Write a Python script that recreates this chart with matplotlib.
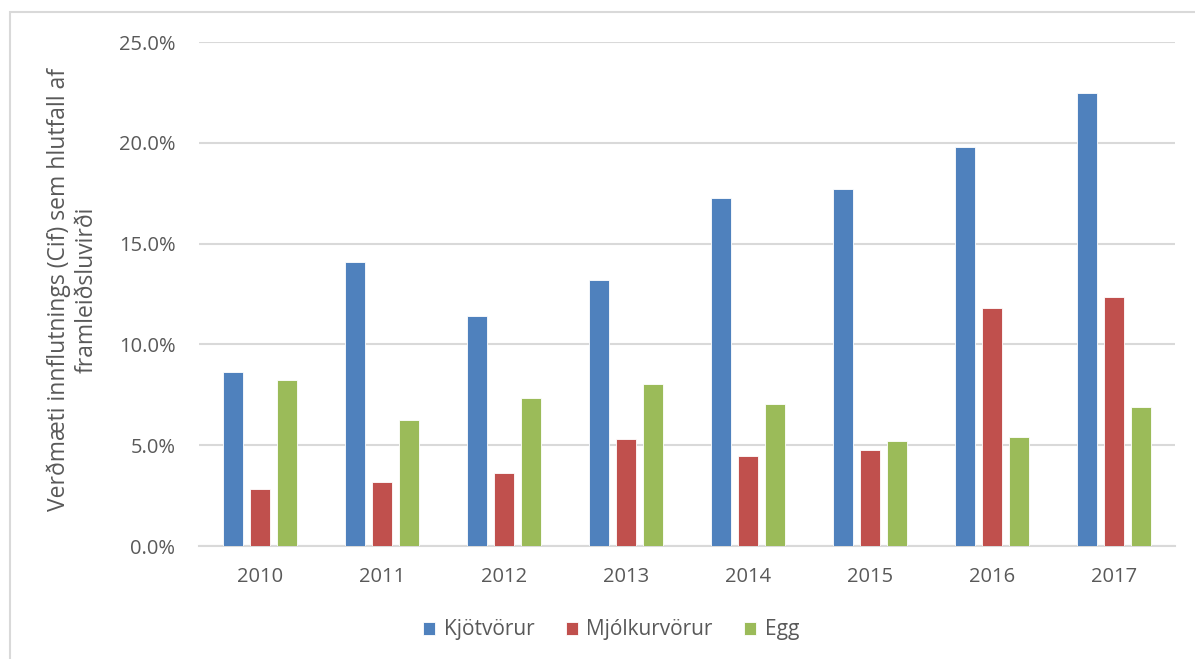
import matplotlib.pyplot as plt
import numpy as np
from matplotlib.patches import Rectangle
from matplotlib.ticker import PercentFormatter

# values (share of production value)
years = ["2010", "2011", "2012", "2013", "2014", "2015", "2016", "2017"]
kjot = [8.62, 14.10, 11.41, 13.19, 17.26, 17.71, 19.80, 22.47]
mjolk = [2.84, 3.16, 3.60, 5.31, 4.46, 4.76, 11.79, 12.37]
egg = [8.23, 6.27, 7.34, 8.04, 7.04, 5.21, 5.41, 6.89]

series = [("Kjötvörur", kjot, "#4F81BD"),
          ("Mjólkurvörur", mjolk, "#C0504D"),
          ("Egg", egg, "#9BBB59")]

plt.rcParams["font.family"] = ["Open Sans", "DejaVu Sans"]
txt = "#595959"

fig = plt.figure(figsize=(11.95, 6.59), dpi=100)
ax = fig.add_axes([199 / 1195, 1 - 546 / 659, 976 / 1195, 504 / 659])

x = np.arange(len(years))
w = 0.165
step = 0.222
for i, (name, vals, col) in enumerate(series):
    ax.bar(x + (i - 1) * step, vals, width=w, color=col, label=name,
           edgecolor="white", linewidth=0.6, zorder=3)

ax.set_xlim(-0.5, len(years) - 0.5)
ax.set_ylim(0, 25)
ax.set_yticks(np.arange(0, 26, 5))
ax.yaxis.set_major_formatter(PercentFormatter(decimals=1))
ax.set_xticks(x)
ax.set_xticklabels(years)
ax.grid(axis="y", color="#D9D9D9", linewidth=1.5, zorder=0)
for s in ["top", "right", "left"]:
    ax.spines[s].set_visible(False)
ax.spines["bottom"].set_color("#D9D9D9")
ax.spines["bottom"].set_linewidth(1.5)
ax.tick_params(length=0, labelsize=14.5, colors=txt)
ax.tick_params(axis="y", pad=17)
ax.tick_params(axis="x", pad=15)

fig.text(73 / 1195, 1 - 290 / 659,
         "Verðmæti innflutnings (Cif) sem hlutfall af\nframleiðsluvirði",
         rotation=90, ha="center", va="center", fontsize=16.5, color=txt,
         linespacing=1.2, multialignment="center")

ax.legend(loc="center", bbox_to_anchor=(611 / 1195, (659 - 630) / 659),
          bbox_transform=fig.transFigure, ncol=3, frameon=False,
          fontsize=15, labelcolor=txt, handlelength=0.6, handleheight=0.6,
          handletextpad=0.4, columnspacing=1.5)

# outer chart border (left and top edges visible)
fig.patches.append(Rectangle((10 / 1195, -0.1), 1.2, 1 - 12 / 659 + 0.1,
                             transform=fig.transFigure, fill=False,
                             edgecolor="#D9D9D9", linewidth=1.5))

fig.savefig("out.png", dpi=100)
